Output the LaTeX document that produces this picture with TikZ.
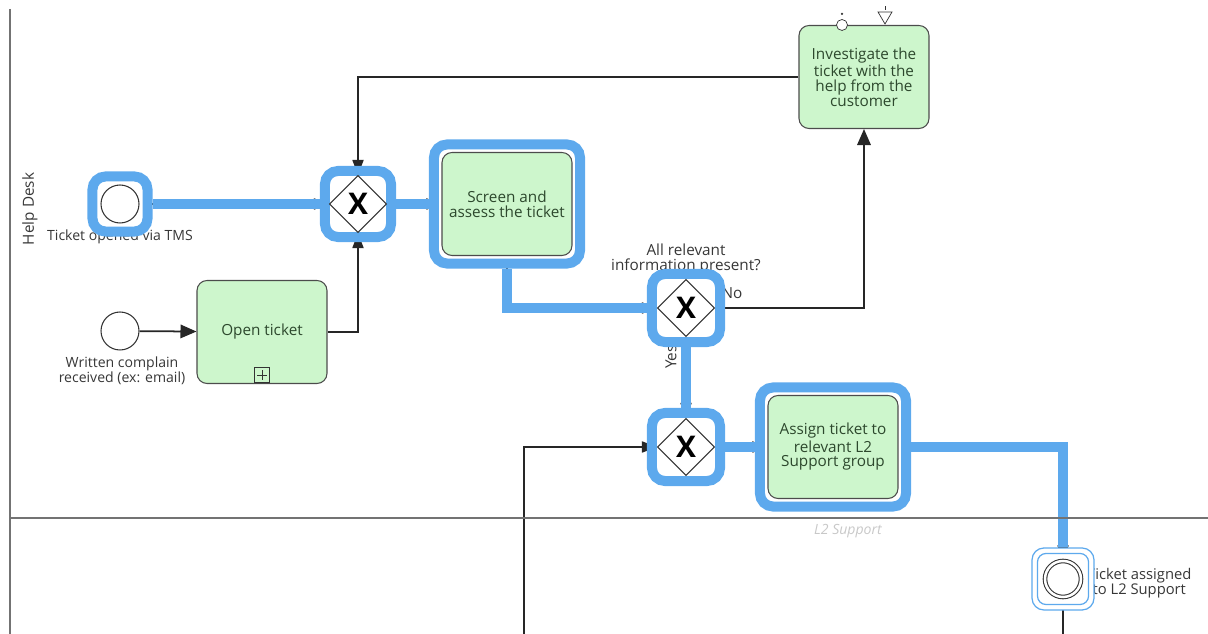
\documentclass[tikz,border=0pt]{standalone}
\usepackage{fontspec}
\setmainfont{Open Sans}
\usepackage{tikz}
\usetikzlibrary{arrows.meta,shapes.geometric,calc,fit}
\usepackage{xcolor}

\definecolor{hlblue}{RGB}{93,169,237}
\definecolor{taskgreen}{RGB}{205,246,204}
\definecolor{tasktext}{RGB}{45,72,45}
\definecolor{labelgray}{RGB}{55,55,55}
\definecolor{lanegray}{RGB}{115,115,115}
\definecolor{faintgray}{RGB}{200,200,200}

\pgfdeclarelayer{flows}
\pgfdeclarelayer{marks}
\pgfsetlayers{flows,marks,main}

\begin{document}
\begin{tikzpicture}[x=0.02cm, y=-0.02cm,
    task/.style={draw=black!70, fill=taskgreen, rounded corners=0.2cm, minimum width=2.6cm,
        minimum height=2.06cm, align=center, text=tasktext, line width=0.6pt,
        font=\fontsize{8.7}{8.5}\selectfont},
    event/.style={circle, draw=black!80, fill=white, minimum size=0.76cm, inner sep=0pt, line width=0.6pt},
    gateway/.style={diamond, draw=black!80, fill=white, minimum width=1.14cm, minimum height=1.14cm,
        inner sep=0pt, line width=0.6pt, font=\bfseries\fontsize{17}{17}\selectfont},
    evlabel/.style={align=center, text=labelgray, font=\fontsize{8}{8.5}\selectfont},
    hlbox/.style={draw=hlblue, fill=white, line width=0.2cm, rounded corners=0.26cm},
    hlflow/.style={draw=hlblue, line width=0.2cm},
    flow/.style={draw=black!85, line width=1pt},
    flowbig/.style={flow, -{Triangle[length=0.32cm,width=0.27cm]}},
    flowsmall/.style={flow, -{Triangle[length=0.3cm,width=0.22cm]}},
    lane/.style={draw=lanegray, line width=0.9pt}]

    \useasboundingbox (0,0) rectangle (1208,634);

    % lanes
    \draw[lane] (10,9) -- (10,634);
    \draw[lane] (10,518) -- (1208,518);
    \node[rotate=90, evlabel, font=\fontsize{8.7}{8.7}\selectfont] (helpdesk) at (30,209) {Help Desk};
    \node[text=faintgray, font=\itshape\fontsize{8}{8}\selectfont] (l2lane) at (848,531) {L2 Support};

    % nodes
    \node[event] (start1) at (120,204) {};
    \node[event] (start2) at (120,331) {};
    \node[gateway] (gw1) at (358,204) {X};
    \node[task] (screen) at (507,204) {Screen and\\assess the ticket};
    \node[task] (open) at (262,332) {Open ticket};
    \node[gateway] (gw2) at (686,308) {X};
    \node[task] (investigate) at (864,77) {Investigate the\\ticket with the\\help from the\\customer};
    \node[gateway] (gw3) at (686,447) {X};
    \node[task] (assign) at (833,447) {Assign ticket to\\relevant L2\\Support group};
    \node[event, double=white, double distance=0.05cm, minimum size=0.72cm] (endev) at (1063,579) {};
    \coordinate (in3) at (524,634);
    \coordinate (out1) at (1063,634);

    % markers
    \node[draw=black!80, minimum size=0.3cm, inner sep=0pt, anchor=south] (openplus) at ($(open.south)+(0,-1)$) {};
    \draw[black!80] ($(openplus.north)+(0,3)$) -- ($(openplus.south)+(0,-3)$)
        ($(openplus.west)+(3,0)$) -- ($(openplus.east)+(-3,0)$);
    \draw[black!80, fill=white] ($(investigate.north)+(-22,0)$) circle (0.11cm);
    \fill[black!80] ($(investigate.north)+(-22,-11)$) circle (0.025cm);
    \draw[black!80, fill=white] ($(investigate.north)+(14,-13)$) -- ($(investigate.north)+(28,-13)$)
        -- ($(investigate.north)+(21,-1)$) -- cycle;
    \draw[black!80] ($(investigate.north)+(21,-15)$) -- ($(investigate.north)+(21,-19)$);

    % flows and labels under the marks
    \begin{pgfonlayer}{flows}
    \node[evlabel] (start1lbl) at (120,237) {Ticket opened via TMS};
    \node[evlabel] (start2lbl) at (122,371) {Written complain\\received (ex: email)};
    \node[evlabel, font=\fontsize{8.7}{8.5}\selectfont] (gw2lbl) at (686,259) {All relevant\\information present?};
    \node[evlabel, anchor=west, font=\fontsize{8.4}{8.5}\selectfont] (endlbl) at (1081,583) {Ticket assigned\\to L2 Support};
    \draw[flowbig] (start2) -- (open);
    \draw[flowsmall] (open) -| (gw1);
    \draw[flowsmall] (investigate) -| (gw1);
    \draw[flowsmall] (start1) -- (gw1);
    \draw[flowsmall] (gw1) -- (screen);
    \draw[flowsmall] (screen) |- (gw2);
    \draw[flowbig] (gw2) -| (investigate);
    \draw[flowsmall] (gw2) -- (gw3);
    \draw[flowsmall] (in3) |- (gw3);
    \draw[flowsmall] (gw3) -- (assign);
    \draw[flowsmall] (assign) -| (endev);
    \draw[flow] (endev) -- (out1);
    \node[evlabel, font=\fontsize{8.7}{8.7}\selectfont] (nolbl) at (732,293) {No};
    \node[evlabel, rotate=90, font=\fontsize{8.7}{8.7}\selectfont] (yeslbl) at (671,357) {Yes};
    \end{pgfonlayer}

    % highlighted path
    \begin{pgfonlayer}{marks}
    \node[hlbox, fit=(start1), inner sep=0.16cm] (hlstart1) {};
    \node[hlbox, fit=(gw1), inner sep=0.08cm] (hlgw1) {};
    \node[hlbox, fit=(screen), inner sep=0.15cm] (hlscreen) {};
    \node[hlbox, fit=(gw2), inner sep=0.1cm] (hlgw2) {};
    \node[hlbox, fit=(gw3), inner sep=0.1cm] (hlgw3) {};
    \node[hlbox, fit=(assign), inner sep=0.15cm] (hlassign) {};
    \node[hlbox, line width=0.7pt, fit=(endev), inner sep=0.25cm, rounded corners=0.24cm] (hlend) {};
    \node[draw=hlblue, line width=0.7pt, fit=(endev), inner sep=0.14cm, rounded corners=0.17cm] (hlend2) {};
    \draw[hlflow] (hlstart1) -- (hlgw1);
    \draw[hlflow] (hlgw1) -- (hlscreen);
    \draw[hlflow] (hlscreen) |- (hlgw2);
    \draw[hlflow] (hlgw2) -- (hlgw3);
    \draw[hlflow] (hlgw3) -- (hlassign);
    \draw[hlflow] (hlassign) -| (hlend);
    \end{pgfonlayer}
\end{tikzpicture}
\end{document}
